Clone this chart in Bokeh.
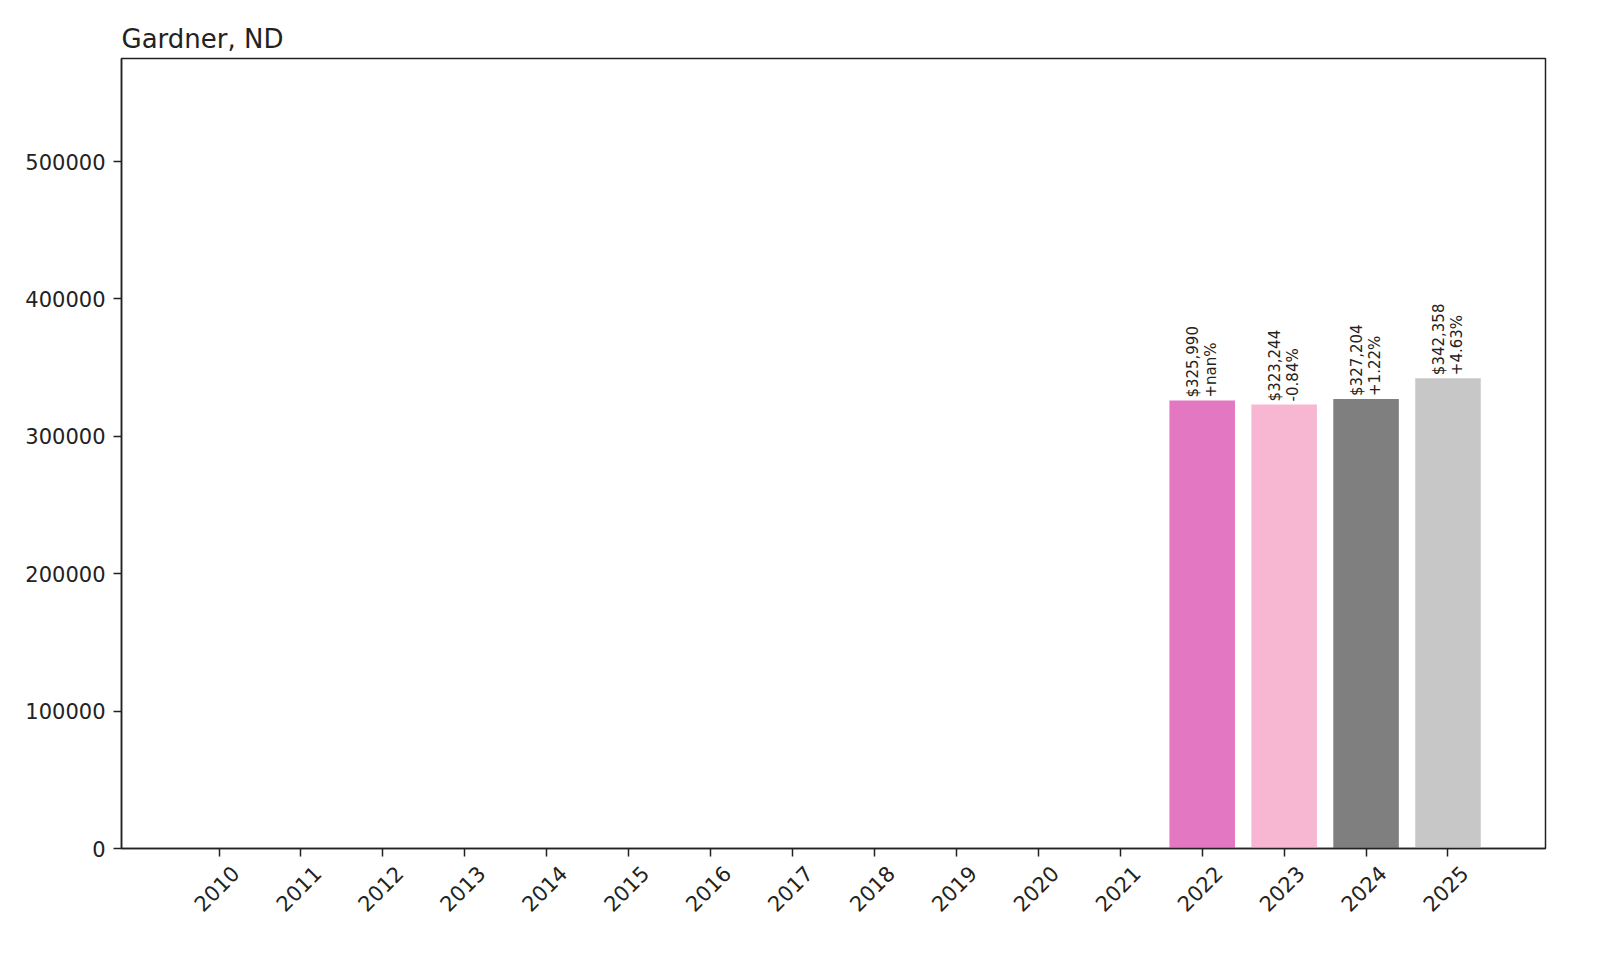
import math
from bokeh.plotting import figure
from bokeh.models import (Range1d, FixedTicker, NumeralTickFormatter, ColumnDataSource,
                          LinearAxis, BasicTickFormatter)
from bokeh.core.properties import value
from bokeh.embed import file_html
from bokeh.resources import INLINE

# ---- data ----
title_text = "Gardner, ND"
years = [2010, 2011, 2012, 2013, 2014, 2015, 2016, 2017,
         2018, 2019, 2020, 2021, 2022, 2023, 2024, 2025]
values = [0, 0, 0, 0, 0, 0, 0, 0,
          0, 0, 0, 0, 325990, 323244, 327204, 342358]
label_years = [2022, 2023, 2024, 2025]
label_values = [325990, 323244, 327204, 342358]
pct_labels = ["+nan%", "-0.84%", "+1.22%", "+4.63%"]
bar_colors = ["#1f77b4", "#aec7e8", "#ff7f0e", "#ffbb78", "#2ca02c", "#98df8a",
              "#d62728", "#ff9896", "#9467bd", "#c5b0d5", "#8c564b", "#c49c94",
              "#e377c2", "#f7b6d2", "#7f7f7f", "#c7c7c7"]
y_ticks = [0, 100000, 200000, 300000, 400000, 500000]
y_max = 575000

FONT = "DejaVu Sans"
TXT = "#222222"
PAD = 1.19          # x padding around the bars (data units)
LABEL_SHIFT = 0.2   # shift of the rotated year labels so they sit centred under ticks

bars = ColumnDataSource(dict(year=years, value=values, color=bar_colors))
labels = ColumnDataSource(dict(
    year=label_years,
    value=label_values,
    text=[f"${v:,.0f}\n{p}" for v, p in zip(label_values, pct_labels)],
))

x0, x1 = years[0] - PAD, years[-1] + PAD
p = figure(
    width=1584, height=944,
    x_range=Range1d(x0, x1),
    y_range=Range1d(0, y_max),
    output_backend="svg", toolbar_location=None,
    min_border_left=121, min_border_right=39,
    min_border_top=58, min_border_bottom=96,
    title=title_text,
)
p.extra_x_ranges = {"labels": Range1d(x0 - LABEL_SHIFT, x1 - LABEL_SHIFT)}

p.vbar(x="year", top="value", width=0.8, source=bars,
       fill_color="color", line_color=None)

p.text(x="year", y="value", text="text", source=labels,
       angle=math.pi / 2, text_align="left", text_baseline="middle",
       text_font=value(FONT), text_font_size="15px", text_color=TXT,
       text_line_height=1.03, y_offset=-3)

# main axes
xax = p.below[0]
yax = p.left[0]
xax.ticker = FixedTicker(ticks=years)
xax.major_label_overrides = {y: "" for y in years}
xax.major_label_text_font_size = "1px"
xax.major_label_standoff = 0
yax.ticker = FixedTicker(ticks=y_ticks)
yax.formatter = NumeralTickFormatter(format="0")
yax.major_label_standoff = 8
yax.major_label_text_font = FONT
yax.major_label_text_font_size = "21px"
yax.major_label_text_color = TXT
for ax in (xax, yax):
    ax.major_tick_in = 0
    ax.major_tick_out = 8
    ax.minor_tick_in = 0
    ax.minor_tick_out = 0
    ax.major_tick_line_color = "#222222"
    ax.major_tick_line_width = 1.5
    ax.axis_line_color = "#222222"
    ax.axis_line_width = 1.5

# year labels: rotated 45 degrees and centred under the ticks
lab_ax = LinearAxis(x_range_name="labels", ticker=FixedTicker(ticks=years),
                    formatter=BasicTickFormatter(use_scientific=False))
lab_ax.major_label_orientation = math.pi / 4
lab_ax.major_label_text_font = FONT
lab_ax.major_label_text_font_size = "21px"
lab_ax.major_label_text_color = TXT
lab_ax.major_label_standoff = 13
lab_ax.major_tick_in = 0
lab_ax.major_tick_out = 0
lab_ax.minor_tick_in = 0
lab_ax.minor_tick_out = 0
lab_ax.axis_line_color = None
lab_ax.major_tick_line_color = None
lab_ax.minor_tick_line_color = None
p.add_layout(lab_ax, "below")

p.grid.visible = False
p.outline_line_color = "#222222"
p.outline_line_width = 1.5
p.outline_line_alpha = 1.0
p.background_fill_color = "white"
p.border_fill_color = "white"

p.title.text_font = FONT
p.title.text_font_size = "26px"
p.title.text_font_style = "normal"
p.title.text_color = TXT
p.title.align = "left"

open("out.html", "w").write(file_html(p, INLINE))
